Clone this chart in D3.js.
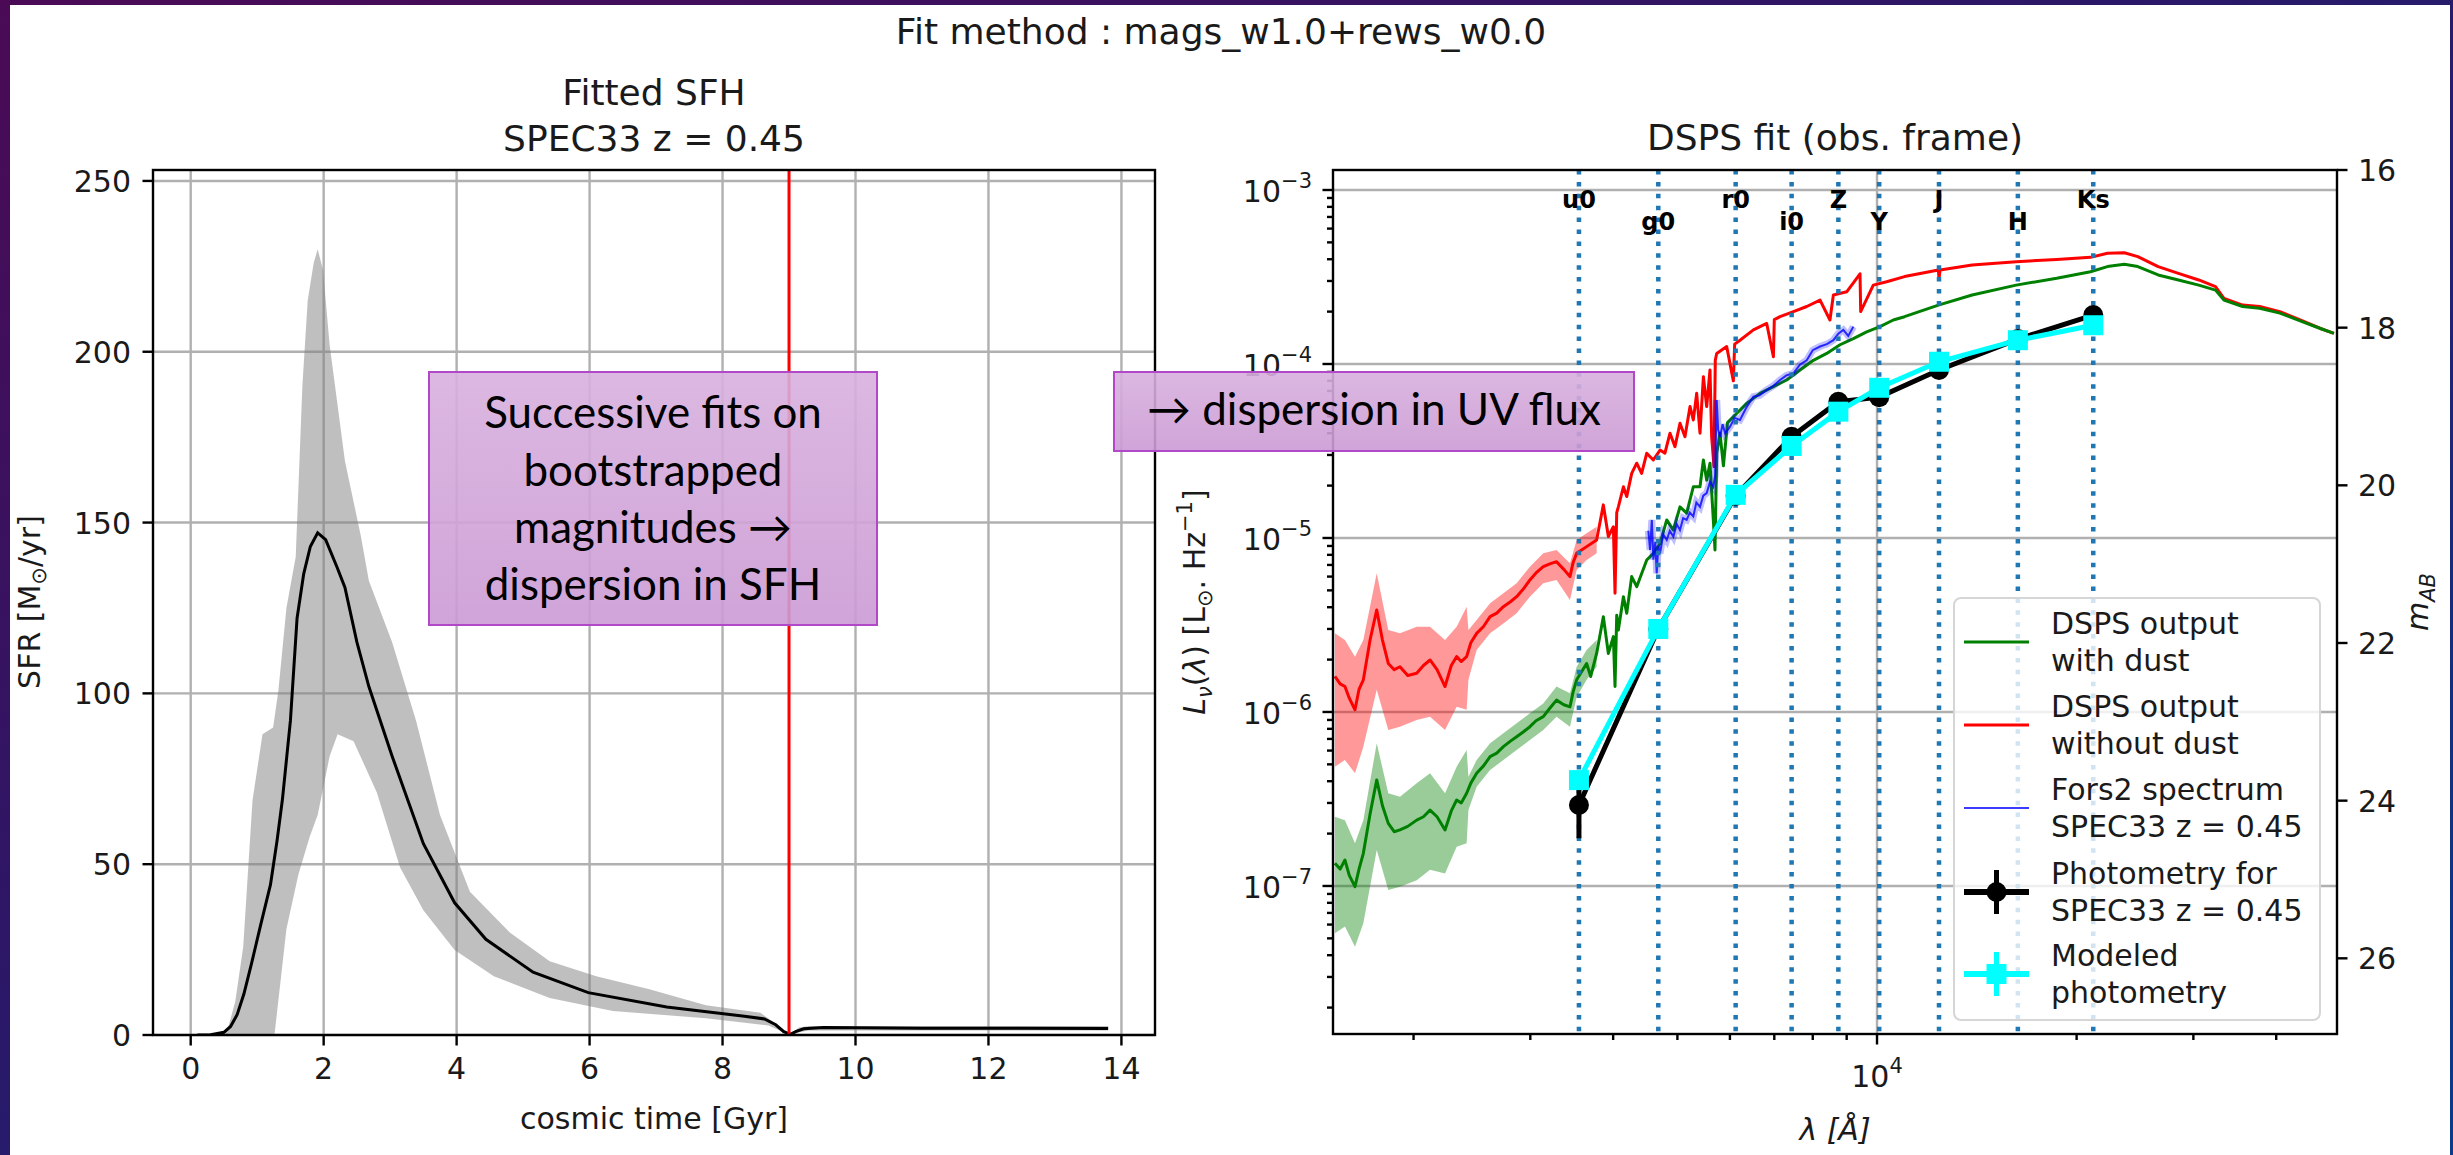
<!DOCTYPE html>
<html><head><meta charset="utf-8">
<script src="https://cdn.jsdelivr.net/npm/d3@7"></script>
<style>html,body{margin:0;padding:0;overflow:hidden;background:#fff}</style>
</head><body>
<svg id="c" width="2453" height="1155"></svg>
<script>
// ---------------- DATA ----------------
const suptitle = "Fit method : mags_w1.0+rews_w0.0";
const leftTitle = ["Fitted SFH", "SPEC33 z = 0.45"];
const rightTitle = "DSPS fit (obs. frame)";

// SFH (cosmic time in Gyr, SFR in Msun/yr)
const sfhMeanT = [0.1,0.3,0.5,0.6,0.7,0.8,0.91,1.05,1.2,1.3,1.38,1.5,1.6,1.7,1.8,1.91,2.03,2.2,2.32,2.5,2.68,3.03,3.5,3.97,4.44,5.15,5.98,7.16,8.33,8.63,8.8,8.92,9.02,9.1,9.22,9.52,11.0,13.8];
const sfhMean  = [0,0.1,0.8,2.5,6,12,20.5,32,44,57,69,92,122,135,143,147,145,137,131,115,102,81.6,56,38.7,28,18.4,12.4,8.2,5.5,4.7,3,1,0.2,1,1.8,2.2,2.0,1.9];
const sfhUpT = [0.1,0.4,0.56,0.67,0.79,0.93,1.08,1.24,1.32,1.44,1.58,1.68,1.76,1.85,1.91,1.99,2.09,2.32,2.56,2.68,3.03,3.39,3.75,4.2,4.8,5.4,6.1,6.9,7.75,8.57,8.8,9.02,9.15,9.3,13.8];
const sfhUp  = [0,0.3,2,9.7,25.8,68.7,88,90,101,125,140,190,215,226,230,224,202,168,146,133,115,92,64.4,41.9,30,21.6,17.2,13.4,8.7,6.5,3.3,0.3,2.2,2.6,2.6];
const sfhLoT = [0.1,1.26,1.44,1.62,1.79,1.91,2.09,2.21,2.45,2.8,3.15,3.5,3.97,4.56,5.4,6.35,7.75,8.69,9.02,9.15,9.3,13.8];
const sfhLo  = [0,0,31,47,58,64.4,81.6,88,86,71,49,36.5,24.9,17.2,10.8,7,4.9,2.8,0,0.8,1.3,1.3];
const tObs = 9.0;
const sfhXTicks = [0,2,4,6,8,10,12,14];
const sfhYTicks = [0,50,100,150,200,250];

// Spectra (observed wavelength in Angstrom, L_nu)
const lamRed = [1522,1550,1576,1600,1632,1655,1680,1720,1760,1795,1832,1870,1908,1960,2022,2070,2118,2170,2231,2280,2323,2360,2405,2440,2490,2550,2609,2670,2732,2800,2861,2930,2996,3060,3138,3210,3286,3370,3443,3480,3524,3648,3777,
  3866,3934,4003,4026,4050,4073,4145,4193,4266,4341,4416,4495,4547,4599,4708,4788,4873,4958,5045,5133,5224,5284,5346,5408,5472,5535,5599,5631,5677,5703,5731,
  5933,6072,6100,6214,6510,6818,6978,7000,7141,7480,7834,8205,8492,8594,9001,9427,9449,9872,10340,11003,12376,12400,12450,13914,16212,18664,20989,22255,23604,24736,26547,28480,30565,32396,33360,35597,37757,40510,43464,46634,48877];
const fluxRed = [1.60e-6,1.45e-6,1.40e-6,1.20e-6,1.03e-6,1.35e-6,1.53e-6,2.6e-6,3.86e-6,2.6e-6,1.90e-6,1.75e-6,1.82e-6,1.62e-6,1.67e-6,1.85e-6,1.99e-6,1.75e-6,1.40e-6,1.85e-6,2.08e-6,1.95e-6,2.08e-6,2.5e-6,2.83e-6,3.1e-6,3.53e-6,3.7e-6,4.03e-6,4.3e-6,4.60e-6,5.1e-6,5.74e-6,6.3e-6,6.84e-6,7.1e-6,7.31e-6,6.6e-6,6.00e-6,7.2e-6,8.16e-6,8.92e-6,9.74e-6,
  1.55e-5,1.02e-5,1.16e-5,4.81e-6,1.4e-5,1.51e-5,1.97e-5,1.73e-5,2.35e-5,2.69e-5,2.35e-5,3.07e-5,2.93e-5,2.81e-5,3.20e-5,3.07e-5,4.0e-5,3.35e-5,4.56e-5,3.82e-5,5.69e-5,4.77e-5,6.78e-5,4.0e-5,8.46e-5,5.69e-5,9.24e-5,3.82e-5,2.57e-5,1.05e-4,1.15e-4,
  1.26e-4,8.0e-5,1.3e-4,1.37e-4,1.57e-4,1.71e-4,1.10e-4,1.8e-4,1.87e-4,2.00e-4,2.14e-4,2.33e-4,1.79e-4,2.49e-4,2.60e-4,3.3e-4,2.0e-4,2.84e-4,2.97e-4,3.18e-4,3.47e-4,3.1e-4,3.47e-4,3.71e-4,3.87e-4,3.99e-4,4.10e-4,4.33e-4,4.36e-4,4.14e-4,3.63e-4,3.32e-4,3.04e-4,2.78e-4,2.38e-4,2.18e-4,2.14e-4,2.00e-4,1.79e-4,1.60e-4,1.50e-4];

const lamGreen = [1522,1550,1576,1600,1632,1655,1680,1720,1760,1795,1832,1870,1908,1960,2022,2070,2118,2170,2231,2280,2323,2360,2405,2440,2490,2550,2609,2670,2732,2800,2861,2930,2996,3060,3138,3210,3286,3370,3443,3480,3524,3648,3700,3777,
  3866,3934,4003,4026,4050,4073,4145,4193,4266,4341,4495,4599,4708,4818,4930,5045,5163,5284,5408,5472,5535,5599,5664,5697,5731,5797,
  5866,5950,6072,6360,6662,6978,7308,7655,8017,8397,8795,9211,9647,10104,10582,11003,12376,13914,16212,18664,20989,22255,23604,24736,26547,28480,30565,32396,33360,35597,37757,40510,43464,46634,48877];
const fluxGreen = [1.35e-7,1.25e-7,1.41e-7,1.15e-7,9.91e-8,1.25e-7,1.54e-7,2.6e-7,4.07e-7,2.9e-7,2.29e-7,2.05e-7,2.10e-7,2.2e-7,2.39e-7,2.5e-7,2.73e-7,2.5e-7,2.10e-7,2.7e-7,3.12e-7,3.0e-7,3.41e-7,3.9e-7,4.44e-7,4.9e-7,5.54e-7,5.8e-7,6.32e-7,6.8e-7,7.21e-7,7.7e-7,8.23e-7,8.9e-7,9.40e-7,1.05e-6,1.17e-6,1.1e-6,1.07e-6,1.3e-6,1.53e-6,1.90e-6,1.6e-6,2.17e-6,
  3.53e-6,2.17e-6,2.71e-6,1.40e-6,3.6e-6,2.96e-6,4.60e-6,3.69e-6,6.0e-6,5.25e-6,7.47e-6,8.16e-6,9.32e-6,1.27e-5,1.11e-5,1.51e-5,1.39e-5,1.97e-5,1.97e-5,2.81e-5,2.15e-5,2.69e-5,1.27e-5,8.53e-6,3.07e-5,4.00e-5,
  2.6e-5,4.6e-5,4.98e-5,5.94e-5,6.78e-5,7.41e-5,8.09e-5,9.24e-5,1.05e-4,1.15e-4,1.29e-4,1.40e-4,1.53e-4,1.64e-4,1.79e-4,1.87e-4,2.18e-4,2.49e-4,2.84e-4,3.11e-4,3.39e-4,3.63e-4,3.74e-4,3.63e-4,3.25e-4,3.04e-4,2.84e-4,2.66e-4,2.33e-4,2.14e-4,2.09e-4,1.96e-4,1.77e-4,1.60e-4,1.50e-4];

// dispersion bands (UV part)
const lamBand = [1522,1576,1632,1680,1760,1832,1908,2022,2118,2231,2323,2405,2420,2490,2609,2732,2861,2996,3138,3286,3443,3524,3648,3777];
const redHi = [2.83e-6,2.59e-6,2.08e-6,2.59e-6,6.27e-6,2.96e-6,2.83e-6,3.09e-6,3.09e-6,2.59e-6,3.09e-6,4.03e-6,2.96e-6,3.38e-6,4.21e-6,4.81e-6,5.49e-6,6.84e-6,8.16e-6,8.53e-6,7.15e-6,9.74e-6,1.064e-5,1.162e-5];
const redLo = [4.85e-7,5.30e-7,4.44e-7,6.32e-7,1.34e-6,7.88e-7,8.23e-7,8.99e-7,9.40e-7,7.88e-7,1.07e-6,1.03e-6,1.53e-6,2.27e-6,2.83e-6,3.23e-6,3.69e-6,4.60e-6,5.49e-6,5.74e-6,4.40e-6,6.55e-6,7.47e-6,8.16e-6];
const greenHi = [2.50e-7,2.39e-7,1.76e-7,2.39e-7,6.61e-7,3.41e-7,3.26e-7,3.89e-7,4.44e-7,3.41e-7,4.85e-7,6.05e-7,4.25e-7,5.30e-7,6.61e-7,7.54e-7,8.60e-7,9.83e-7,1.12e-6,1.40e-6,1.28e-6,1.82e-6,2.27e-6,2.59e-6];
const greenLo = [5.35e-8,5.84e-8,4.48e-8,6.10e-8,1.61e-7,9.48e-8,9.91e-8,1.08e-7,1.24e-7,1.18e-7,1.68e-7,1.76e-7,2.73e-7,3.72e-7,4.64e-7,5.30e-7,6.05e-7,6.91e-7,7.88e-7,9.40e-7,8.23e-7,1.22e-6,1.53e-6,1.82e-6];

// Fors2 spectrum
const lamFors = [4520,4547,4575,4600,4630,4653,4680,4708,4760,4818,4870,4930,4990,5045,5100,5163,5220,5284,5340,5408,5470,5535,5600,5664,5700,5731,5760,5797,5850,5900,6002,6100,6214,6350,6510,6650,6818,6980,7141,7300,7480,7650,7834,8000,8205,8400,8594,8750,8897,9050,9211];
const fluxFors = [1.1e-5,8.53e-6,1.27e-5,7.5e-6,9.5e-6,6.26e-6,9.0e-6,8.16e-6,1.05e-5,9.74e-6,1.1e-5,1.018e-5,1.2e-5,1.11e-5,1.3e-5,1.27e-5,1.4e-5,1.33e-5,1.6e-5,1.51e-5,1.75e-5,1.81e-5,2.1e-5,1.97e-5,2.3e-5,6.21e-5,4.2e-5,3.82e-5,4.5e-5,4.0e-5,4.36e-5,4.9e-5,4.77e-5,5.6e-5,6.49e-5,6.6e-5,7.09e-5,7.5e-5,8.09e-5,8.6e-5,8.84e-5,9.9e-5,1.05e-4,1.2e-4,1.26e-4,1.3e-4,1.37e-4,1.5e-4,1.57e-4,1.45e-4,1.64e-4];

// photometry
const filters   = ["u0","g0","r0","i0","Z","Y","J","H","Ks"];
const filterLam = [3552,4679,6121,7434,8744,10077,12402,16309,21190];
const photObs    = [2.92e-7,3.0e-6,1.75e-5,3.82e-5,6.07e-5,6.45e-5,9.24e-5,1.39e-4,1.91e-4];
const photObsErr = [1.04e-7,1.5e-7,6e-7,1.2e-6,2.0e-6,2.5e-6,3e-6,4e-6,6e-6];
const photModel  = [4.06e-7,3.0e-6,1.77e-5,3.38e-5,5.32e-5,7.3e-5,1.03e-4,1.37e-4,1.67e-4];
const photModelErr = [2e-8,1e-7,5e-7,1e-6,1.5e-6,2e-6,3e-6,4e-6,5e-6];

const specYTickExp = [-7,-6,-5,-4,-3];
const magTicks = [16,18,20,22,24,26];
const legendItems = [
  {lines:["DSPS output","with dust"], kind:"line", color:"#008000", w:3},
  {lines:["DSPS output","without dust"], kind:"line", color:"#ff0000", w:3},
  {lines:["Fors2 spectrum","SPEC33 z = 0.45"], kind:"line", color:"#3b3bff", w:2},
  {lines:["Photometry for","SPEC33 z = 0.45"], kind:"circle", color:"#000000", w:6},
  {lines:["Modeled","photometry"], kind:"square", color:"#00ffff", w:6}
];
const box1Lines = ["Successive fits on","bootstrapped","magnitudes \u2192","dispersion in SFH"];
const box2Text = "\u2192 dispersion in UV flux";

// ---------------- DRAW ----------------
const svg = d3.select("#c");
const FONT = "DejaVu Sans";
const defs = svg.append("defs");
const bg = defs.append("linearGradient").attr("id","bg").attr("x1",0).attr("y1",0).attr("x2",1).attr("y2",1);
bg.append("stop").attr("offset","0%").attr("stop-color","#4b0a55");
bg.append("stop").attr("offset","45%").attr("stop-color","#2a1868");
bg.append("stop").attr("offset","100%").attr("stop-color","#0b3b8c");
const boxg = defs.append("linearGradient").attr("id","boxg").attr("x1",0).attr("y1",0).attr("x2",0).attr("y2",1);
boxg.append("stop").attr("offset","0%").attr("stop-color","#d8b0de");
boxg.append("stop").attr("offset","100%").attr("stop-color","#cb9ad4");

svg.append("rect").attr("width",2453).attr("height",1155).attr("fill","url(#bg)");
svg.append("rect").attr("x",10).attr("y",5).attr("width",2440).attr("height",1150).attr("fill","#fff");

const GRID = "#b0b0b0", GW = 2.4, SW = 2.4;

// suptitle
svg.append("text").attr("x",1221).attr("y",44).attr("text-anchor","middle")
  .attr("font-family",FONT).attr("font-size",36).attr("fill","#1a1a1a").text(suptitle);

// ======== LEFT PANEL ========
const L = {x0:153,x1:1155,y0:170,y1:1035};
const xL = d3.scaleLinear().domain([-0.567,14.505]).range([L.x0,L.x1]);
const yL = d3.scaleLinear().domain([0,253.2]).range([L.y1,L.y0]);
const gl = svg.append("g");
defs.append("clipPath").attr("id","clipL").append("rect").attr("x",L.x0).attr("y",L.y0).attr("width",L.x1-L.x0).attr("height",L.y1-L.y0);

sfhXTicks.forEach(v=>gl.append("line").attr("x1",xL(v)).attr("x2",xL(v)).attr("y1",L.y0).attr("y2",L.y1).attr("stroke",GRID).attr("stroke-width",GW));
sfhYTicks.forEach(v=>gl.append("line").attr("x1",L.x0).attr("x2",L.x1).attr("y1",yL(v)).attr("y2",yL(v)).attr("stroke",GRID).attr("stroke-width",GW));

const plotL = gl.append("g").attr("clip-path","url(#clipL)");
const bandPts = sfhUpT.map((t,i)=>[xL(t),yL(sfhUp[i])]).concat(sfhLoT.map((t,i)=>[xL(t),yL(sfhLo[i])]).reverse());
plotL.append("path").attr("d",d3.line()(bandPts)+"Z").attr("fill","#808080").attr("fill-opacity",0.5).attr("stroke","none");
plotL.append("path").attr("d",d3.line()(sfhMeanT.map((t,i)=>[xL(t),yL(sfhMean[i])]))).attr("fill","none").attr("stroke","#000").attr("stroke-width",3);
plotL.append("line").attr("x1",xL(tObs)).attr("x2",xL(tObs)).attr("y1",L.y0).attr("y2",L.y1).attr("stroke","#ff0000").attr("stroke-width",3);

gl.append("rect").attr("x",L.x0).attr("y",L.y0).attr("width",L.x1-L.x0).attr("height",L.y1-L.y0).attr("fill","none").attr("stroke","#000").attr("stroke-width",SW);
sfhXTicks.forEach(v=>{
  gl.append("line").attr("x1",xL(v)).attr("x2",xL(v)).attr("y1",L.y1).attr("y2",L.y1+10.5).attr("stroke","#000").attr("stroke-width",SW);
  gl.append("text").attr("x",xL(v)).attr("y",L.y1+44).attr("text-anchor","middle").attr("font-family",FONT).attr("font-size",30).attr("fill","#1a1a1a").text(v);
});
sfhYTicks.forEach(v=>{
  gl.append("line").attr("x1",L.x0-10.5).attr("x2",L.x0).attr("y1",yL(v)).attr("y2",yL(v)).attr("stroke","#000").attr("stroke-width",SW);
  gl.append("text").attr("x",L.x0-22).attr("y",yL(v)+11).attr("text-anchor","end").attr("font-family",FONT).attr("font-size",30).attr("fill","#1a1a1a").text(v);
});
gl.append("text").attr("x",(L.x0+L.x1)/2).attr("y",1129).attr("text-anchor","middle").attr("font-family",FONT).attr("font-size",30).attr("fill","#1a1a1a").text("cosmic time [Gyr]");
{
  const t = gl.append("text").attr("transform","translate(40,602) rotate(-90)").attr("text-anchor","middle").attr("font-family",FONT).attr("font-size",30).attr("fill","#1a1a1a");
  t.append("tspan").text("SFR [M");
  t.append("tspan").attr("font-size",21).attr("dy",6).text("\u2299");
  t.append("tspan").attr("dy",-6).text("/yr]");
}
gl.append("text").attr("x",654).attr("y",105).attr("text-anchor","middle").attr("font-family",FONT).attr("font-size",36).attr("fill","#1a1a1a").text(leftTitle[0]);
gl.append("text").attr("x",654).attr("y",151).attr("text-anchor","middle").attr("font-family",FONT).attr("font-size",36).attr("fill","#1a1a1a").text(leftTitle[1]);

// ======== RIGHT PANEL ========
const R = {x0:1333,x1:2337,y0:170,y1:1034};
const xR = d3.scaleLog().domain([1512,49400]).range([R.x0,R.x1]);
const yR = d3.scaleLog().domain([1.41e-8,1.303e-3]).range([R.y1,R.y0]);
const mR = d3.scaleLinear().domain([16,26.96]).range([R.y0,R.y1]);
const gr = svg.append("g");
defs.append("clipPath").attr("id","clipR").append("rect").attr("x",R.x0).attr("y",R.y0).attr("width",R.x1-R.x0).attr("height",R.y1-R.y0);

specYTickExp.forEach(e=>gr.append("line").attr("x1",R.x0).attr("x2",R.x1).attr("y1",yR(Math.pow(10,e))).attr("y2",yR(Math.pow(10,e))).attr("stroke",GRID).attr("stroke-width",GW));
gr.append("line").attr("x1",xR(1e4)).attr("x2",xR(1e4)).attr("y1",R.y0).attr("y2",R.y1).attr("stroke",GRID).attr("stroke-width",GW);

const plotR = gr.append("g").attr("clip-path","url(#clipR)");
const area = (lo,hi)=>d3.area().x((d,i)=>xR(lamBand[i])).y0((d,i)=>yR(lo[i])).y1((d,i)=>yR(hi[i]))(lamBand);
plotR.append("path").attr("d",area(redLo,redHi)).attr("fill","#ff0000").attr("fill-opacity",0.4);
plotR.append("path").attr("d",area(greenLo,greenHi)).attr("fill","#008000").attr("fill-opacity",0.4);
const specLine = (lam,fl)=>d3.line()(lam.map((l,i)=>[xR(l),yR(fl[i])]));
plotR.append("path").attr("d",specLine(lamRed,fluxRed)).attr("fill","none").attr("stroke","#ff0000").attr("stroke-width",3).attr("stroke-linejoin","round");
plotR.append("path").attr("d",specLine(lamGreen,fluxGreen)).attr("fill","none").attr("stroke","#008000").attr("stroke-width",3).attr("stroke-linejoin","round");
plotR.append("path").attr("d",specLine(lamFors,fluxFors)).attr("fill","none").attr("stroke","#0000ff").attr("stroke-opacity",0.25).attr("stroke-width",7);
plotR.append("path").attr("d",specLine(lamFors,fluxFors)).attr("fill","none").attr("stroke","#0000ff").attr("stroke-opacity",0.8).attr("stroke-width",2);

// filter lines and labels
filterLam.forEach((l,i)=>{
  plotR.append("line").attr("x1",xR(l)).attr("x2",xR(l)).attr("y1",R.y0).attr("y2",R.y1).attr("stroke","#1f77b4").attr("stroke-width",4.5).attr("stroke-dasharray","4.5,7.4");
  gr.append("text").attr("x",xR(l)).attr("y",i%2===0?208:230).attr("text-anchor","middle").attr("font-family",FONT).attr("font-weight","bold").attr("font-size",24).attr("fill","#000").text(filters[i]);
});

// photometry
const phot = plotR.append("g");
phot.append("path").attr("d",specLine(filterLam,photObs)).attr("fill","none").attr("stroke","#000").attr("stroke-width",5);
filterLam.forEach((l,i)=>{
  phot.append("line").attr("x1",xR(l)).attr("x2",xR(l)).attr("y1",yR(photObs[i]-photObsErr[i])).attr("y2",yR(photObs[i]+photObsErr[i])).attr("stroke","#000").attr("stroke-width",5);
  phot.append("circle").attr("cx",xR(l)).attr("cy",yR(photObs[i])).attr("r",10).attr("fill","#000");
});
phot.append("path").attr("d",specLine(filterLam,photModel)).attr("fill","none").attr("stroke","#00ffff").attr("stroke-width",5);
filterLam.forEach((l,i)=>{
  phot.append("line").attr("x1",xR(l)).attr("x2",xR(l)).attr("y1",yR(photModel[i]-photModelErr[i])).attr("y2",yR(photModel[i]+photModelErr[i])).attr("stroke","#00ffff").attr("stroke-width",5);
  phot.append("rect").attr("x",xR(l)-10).attr("y",yR(photModel[i])-10).attr("width",20).attr("height",20).attr("fill","#00ffff");
});

// spines & ticks
gr.append("rect").attr("x",R.x0).attr("y",R.y0).attr("width",R.x1-R.x0).attr("height",R.y1-R.y0).attr("fill","none").attr("stroke","#000").attr("stroke-width",SW);
const tk = (x1,y1,x2,y2)=>gr.append("line").attr("x1",x1).attr("y1",y1).attr("x2",x2).attr("y2",y2).attr("stroke","#000").attr("stroke-width",SW);
for (let e=-8;e<=-3;e++){
  for (let k=1;k<=9;k++){
    const v=k*Math.pow(10,e);
    if (v<yR.domain()[0]||v>yR.domain()[1]) continue;
    const y=yR(v);
    tk(R.x0-(k===1?10.5:6),y,R.x0,y);
  }
}
specYTickExp.forEach(e=>{
  const t = gr.append("text").attr("x",R.x0-21).attr("y",yR(Math.pow(10,e))+12).attr("text-anchor","end").attr("font-family",FONT).attr("font-size",30).attr("fill","#1a1a1a");
  t.append("tspan").text("10");
  t.append("tspan").attr("dy",-14).attr("font-size",21).text("\u2212"+Math.abs(e));
});
[3,4].forEach(e=>{
  for (let k=1;k<=9;k++){
    const v=k*Math.pow(10,e);
    if (v<xR.domain()[0]||v>xR.domain()[1]) continue;
    const x=xR(v);
    tk(x,R.y1,x,R.y1+(k===1?10.5:6));
  }
});
{
  const t = gr.append("text").attr("x",xR(1e4)).attr("y",1087).attr("text-anchor","middle").attr("font-family",FONT).attr("font-size",30).attr("fill","#1a1a1a");
  t.append("tspan").text("10");
  t.append("tspan").attr("dy",-14).attr("font-size",21).text("4");
}
magTicks.forEach(m=>{
  tk(R.x1,mR(m),R.x1+10.5,mR(m));
  gr.append("text").attr("x",R.x1+21).attr("y",mR(m)+11).attr("font-family",FONT).attr("font-size",30).attr("fill","#1a1a1a").text(m);
});
{
  const t = gr.append("text").attr("transform","translate(2428,602) rotate(-90)").attr("text-anchor","middle").attr("font-family",FONT).attr("font-style","italic").attr("font-size",30).attr("fill","#1a1a1a");
  t.append("tspan").text("m");
  t.append("tspan").attr("dy",7).attr("font-size",21).text("AB");
}
{
  const t = gr.append("text").attr("transform","translate(1205,602) rotate(-90)").attr("text-anchor","middle").attr("font-family",FONT).attr("font-size",30).attr("fill","#1a1a1a");
  t.append("tspan").attr("font-style","italic").text("L");
  t.append("tspan").attr("font-style","italic").attr("font-size",21).attr("dy",7).text("\u03bd");
  t.append("tspan").attr("dy",-7).text("(");
  t.append("tspan").attr("font-style","italic").text("\u03bb");
  t.append("tspan").text(") [L");
  t.append("tspan").attr("font-size",21).attr("dy",7).text("\u2299");
  t.append("tspan").attr("dy",-7).text(". Hz");
  t.append("tspan").attr("font-size",21).attr("dy",-13).text("\u22121");
  t.append("tspan").attr("dy",13).text("]");
}
gr.append("text").attr("x",(R.x0+R.x1)/2).attr("y",1140).attr("text-anchor","middle").attr("font-family",FONT).attr("font-style","italic").attr("font-size",30).attr("fill","#1a1a1a").text("\u03bb [\u00c5]");
gr.append("text").attr("x",(R.x0+R.x1)/2).attr("y",150).attr("text-anchor","middle").attr("font-family",FONT).attr("font-size",36).attr("fill","#1a1a1a").text(rightTitle);

// legend
{
  const lg = gr.append("g");
  lg.append("rect").attr("x",1954).attr("y",598).attr("width",366).attr("height",422).attr("rx",7).attr("fill","#fff").attr("fill-opacity",0.8).attr("stroke","#d6d6d6").attr("stroke-width",2);
  const hy = [642,725,808,892,974];
  legendItems.forEach((it,i)=>{
    const y=hy[i], xa=1964, xb=2029, xm=(xa+xb)/2;
    lg.append("line").attr("x1",xa).attr("x2",xb).attr("y1",y).attr("y2",y).attr("stroke",it.color).attr("stroke-width",it.w);
    if (it.kind!=="line"){
      lg.append("line").attr("x1",xm).attr("x2",xm).attr("y1",y-22).attr("y2",y+22).attr("stroke",it.color).attr("stroke-width",5);
      if (it.kind==="circle") lg.append("circle").attr("cx",xm).attr("cy",y).attr("r",10).attr("fill",it.color);
      else lg.append("rect").attr("x",xm-10).attr("y",y-10).attr("width",20).attr("height",20).attr("fill",it.color);
    }
    it.lines.forEach((s,j)=>lg.append("text").attr("x",2051).attr("y",y-19+j*37+11).attr("font-family",FONT).attr("font-size",30).attr("fill","#1a1a1a").text(s));
  });
}

// ======== ANNOTATION BOXES ========
const BFONT = "Lato";
function fitText(sel, target){
  const w = sel.node().getComputedTextLength();
  const fs = +sel.attr("font-size");
  return fs*target/w;
}
{
  const b = svg.append("g");
  b.append("rect").attr("x",429).attr("y",372).attr("width",448).attr("height",253).attr("fill","url(#boxg)").attr("fill-opacity",0.9).attr("stroke","#b048c8").attr("stroke-width",2);
  const base = [428,486,543,600], targets=[337,261,282,330];
  const ts = box1Lines.map((s,i)=>b.append("text").attr("x",653).attr("y",base[i]).attr("text-anchor","middle").attr("font-family",BFONT).attr("font-size",44).attr("fill","#000").text(s));
  let fsum=0; ts.forEach((t,i)=>fsum+=fitText(t,targets[i]));
  const fs=fsum/ts.length; ts.forEach(t=>t.attr("font-size",fs));
}
{
  const b = svg.append("g");
  b.append("rect").attr("x",1114).attr("y",372).attr("width",520).attr("height",79).attr("fill","url(#boxg)").attr("fill-opacity",0.9).attr("stroke","#b048c8").attr("stroke-width",2);
  const t = b.append("text").attr("x",1147).attr("y",425).attr("font-family",BFONT).attr("font-size",44).attr("fill","#000").text(box2Text);
  t.attr("font-size",fitText(t,454));
}
</script>
</body></html>
